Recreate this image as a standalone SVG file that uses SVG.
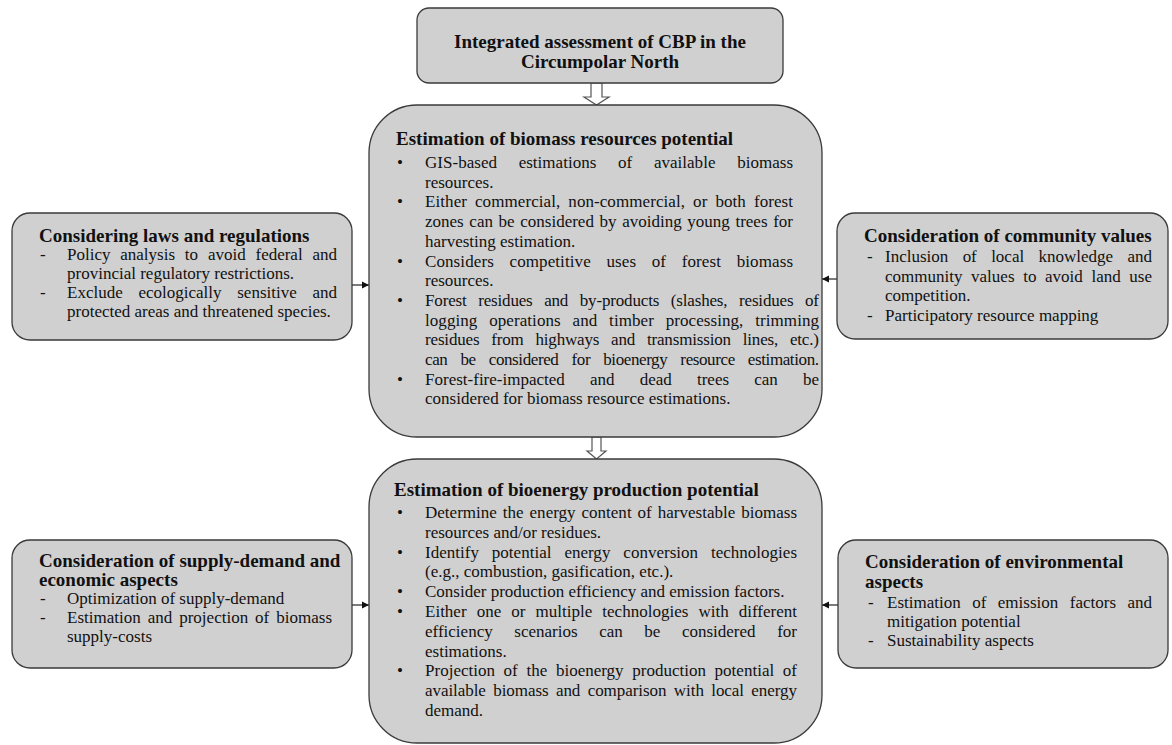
<svg xmlns="http://www.w3.org/2000/svg" width="1172" height="745" viewBox="0 0 1172 745">
<defs>
<style>
.box{fill:#d0d0d0;stroke:#3a3a3a;stroke-width:1.3}
text{font-family:"Liberation Serif","Times New Roman",serif;fill:#111;font-size:17px}
.h{font-weight:bold;font-size:19px}
.c{text-anchor:middle}
.blk{fill:#ffffff;stroke:#555;stroke-width:1.2}
.ln{stroke:#222;stroke-width:1.2;fill:none}
</style>
<marker id="ah" markerWidth="8" markerHeight="8" refX="7" refY="4" orient="auto" markerUnits="userSpaceOnUse">
<path d="M0,0.5 L7,4 L0,7.5 Z" fill="#111"/>
</marker>
</defs>
<rect width="1172" height="745" fill="#ffffff"/>

<g id="connectors">
<polygon class="blk" points="591,83 602,83 602,97 609,97 596.5,105 584,97 591,97"/>
<polygon class="blk" points="592,437 601,437 601,451 606,451 596.5,459 587,451 592,451"/>
<line class="ln" x1="352" y1="285" x2="369" y2="285" marker-end="url(#ah)"/>
<line class="ln" x1="837" y1="279" x2="822" y2="279" marker-end="url(#ah)"/>
<line class="ln" x1="352" y1="605" x2="369" y2="605" marker-end="url(#ah)"/>
<line class="ln" x1="838" y1="605" x2="822" y2="605" marker-end="url(#ah)"/>
</g>

<g id="top">
<rect class="box" x="417" y="8" width="366" height="75" rx="12"/>
<text class="h c" x="600" y="48">Integrated assessment of CBP in the</text>
<text class="h c" x="600" y="68">Circumpolar North</text>
</g>

<g id="biomass">
<rect class="box" x="369" y="105" width="453" height="332" rx="48"/>
<text class="h" x="396" y="145">Estimation of biomass resources potential</text>
<text x="397" y="168">•</text>
<text x="425" y="168" word-spacing="17.4" textLength="368" lengthAdjust="spacing">GIS-based estimations of available biomass</text>
<text x="425" y="187.7">resources.</text>
<text x="397" y="207.4">•</text>
<text x="425" y="207.4" word-spacing="3.7" textLength="368" lengthAdjust="spacing">Either commercial, non-commercial, or both forest</text>
<text x="425" y="227.1" word-spacing="1.4" textLength="368" lengthAdjust="spacing">zones can be considered by avoiding young trees for</text>
<text x="425" y="246.8">harvesting estimation.</text>
<text x="397" y="266.5">•</text>
<text x="425" y="266.5" word-spacing="11.3" textLength="368" lengthAdjust="spacing">Considers competitive uses of forest biomass</text>
<text x="425" y="286.2">resources.</text>
<text x="397" y="305.9">•</text>
<text x="425" y="305.9" word-spacing="7.5" textLength="394" lengthAdjust="spacing">Forest residues and by-products (slashes, residues of</text>
<text x="425" y="325.6" word-spacing="7.5" textLength="394" lengthAdjust="spacing">logging operations and timber processing, trimming</text>
<text x="425" y="345.3" word-spacing="7.7" textLength="394" lengthAdjust="spacing">residues from highways and transmission lines, etc.)</text>
<text x="425" y="365" word-spacing="9.2" textLength="394" lengthAdjust="spacing">can be considered for bioenergy resource estimation.</text>
<text x="397" y="384.7">•</text>
<text x="425" y="384.7" word-spacing="20.9" textLength="394" lengthAdjust="spacing">Forest-fire-impacted and dead trees can be</text>
<text x="425" y="404.4">considered for biomass resource estimations.</text>
</g>

<g id="bioenergy">
<rect class="box" x="369" y="459" width="453" height="284" rx="48"/>
<text class="h" x="394" y="496">Estimation of bioenergy production potential</text>
<text x="397" y="518">•</text>
<text x="425" y="518" word-spacing="1.7" textLength="372" lengthAdjust="spacing">Determine the energy content of harvestable biomass</text>
<text x="425" y="537.8">resources and/or residues.</text>
<text x="397" y="557.6">•</text>
<text x="425" y="557.6" word-spacing="8.7" textLength="372" lengthAdjust="spacing">Identify potential energy conversion technologies</text>
<text x="425" y="577.4">(e.g., combustion, gasification, etc.).</text>
<text x="397" y="597.2">•</text>
<text x="425" y="597.2">Consider production efficiency and emission factors.</text>
<text x="397" y="617">•</text>
<text x="425" y="617" word-spacing="5.8" textLength="372" lengthAdjust="spacing">Either one or multiple technologies with different</text>
<text x="425" y="636.8" word-spacing="17.3" textLength="372" lengthAdjust="spacing">efficiency scenarios can be considered for</text>
<text x="425" y="656.6">estimations.</text>
<text x="397" y="676.4">•</text>
<text x="425" y="676.4" word-spacing="4.4" textLength="372" lengthAdjust="spacing">Projection of the bioenergy production potential of</text>
<text x="425" y="696.2" word-spacing="3.2" textLength="372" lengthAdjust="spacing">available biomass and comparison with local energy</text>
<text x="425" y="716">demand.</text>
</g>

<g id="laws">
<rect class="box" x="12" y="213" width="340" height="127" rx="18"/>
<text class="h" x="39" y="242">Considering laws and regulations</text>
<text x="40" y="260">-</text>
<text x="67" y="260" word-spacing="5.6" textLength="270" lengthAdjust="spacing">Policy analysis to avoid federal and</text>
<text x="67" y="279">provincial regulatory restrictions.</text>
<text x="40" y="298">-</text>
<text x="67" y="298" word-spacing="11.5" textLength="270" lengthAdjust="spacing">Exclude ecologically sensitive and</text>
<text x="67" y="317">protected areas and threatened species.</text>
</g>

<g id="community">
<rect class="box" x="837" y="213" width="331" height="126" rx="18"/>
<text class="h" x="864" y="242">Consideration of community values</text>
<text x="867" y="262">-</text>
<text x="885" y="262" word-spacing="10.1" textLength="267" lengthAdjust="spacing">Inclusion of local knowledge and</text>
<text x="885" y="281.5" word-spacing="4.4" textLength="267" lengthAdjust="spacing">community values to avoid land use</text>
<text x="885" y="301">competition.</text>
<text x="867" y="320.5">-</text>
<text x="885" y="320.5">Participatory resource mapping</text>
</g>

<g id="supply">
<rect class="box" x="12" y="540" width="340" height="128" rx="18"/>
<text class="h" x="39" y="567">Consideration of supply-demand and</text>
<text class="h" x="39" y="586">economic aspects</text>
<text x="40" y="604">-</text>
<text x="67" y="604">Optimization of supply-demand</text>
<text x="40" y="623">-</text>
<text x="67" y="623" word-spacing="2.7" textLength="265" lengthAdjust="spacing">Estimation and projection of biomass</text>
<text x="67" y="642">supply-costs</text>
</g>

<g id="environment">
<rect class="box" x="838" y="540" width="330" height="128" rx="18"/>
<text class="h" x="865" y="568">Consideration of environmental</text>
<text class="h" x="865" y="588">aspects</text>
<text x="868" y="608">-</text>
<text x="887" y="608" word-spacing="7.2" textLength="265" lengthAdjust="spacing">Estimation of emission factors and</text>
<text x="887" y="627">mitigation potential</text>
<text x="868" y="646">-</text>
<text x="887" y="646">Sustainability aspects</text>
</g>
</svg>
